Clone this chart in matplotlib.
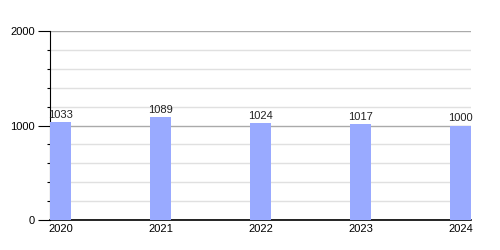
import matplotlib
matplotlib.use("Agg")
import numpy as np
from matplotlib import pyplot as plt
from matplotlib.ticker import MultipleLocator

years = ["2020", "2021", "2022", "2023", "2024"]
values = [1033, 1089, 1024, 1017, 1000]

plt.rcParams['font.family'] = ['Liberation Sans', 'DejaVu Sans']

fig = plt.figure(figsize=(5, 2.5), dpi=100)
ax = fig.add_axes([0.1, 0.12, 0.842, 0.756])

x = np.arange(len(years))
bar_w = 0.21
bars = ax.bar(x, values, width=bar_w, color='#99aaff', zorder=3)

for xi, v in zip(x, values):
    ax.text(xi, v + 25, str(v), ha='center', va='bottom', fontsize=8, color='#222222', zorder=4)

ax.set_xlim(-bar_w / 2, len(years) - 1 + bar_w / 2)
ax.set_ylim(0, 2000)
ax.set_xticks(x)
ax.set_xticklabels(years)
ax.yaxis.set_major_locator(MultipleLocator(1000))
ax.yaxis.set_minor_locator(MultipleLocator(200))

ax.grid(axis='y', which='major', color='#aaaaaa', lw=1, zorder=0)
ax.grid(axis='y', which='minor', color='#e0e0e0', lw=1, zorder=0)
ax.set_axisbelow(True)

for side in ('top', 'right'):
    ax.spines[side].set_visible(False)
ax.spines['left'].set_color('black')
ax.spines['bottom'].set_color('black')
ax.spines['bottom'].set_linewidth(1.2)

ax.tick_params(axis='x', length=0, labelsize=8, pad=3)
ax.tick_params(axis='y', which='major', length=9, width=0.8, labelsize=8, pad=2)
ax.tick_params(axis='y', which='minor', length=2, width=0.8)

fig.savefig("out.png", dpi=100)
